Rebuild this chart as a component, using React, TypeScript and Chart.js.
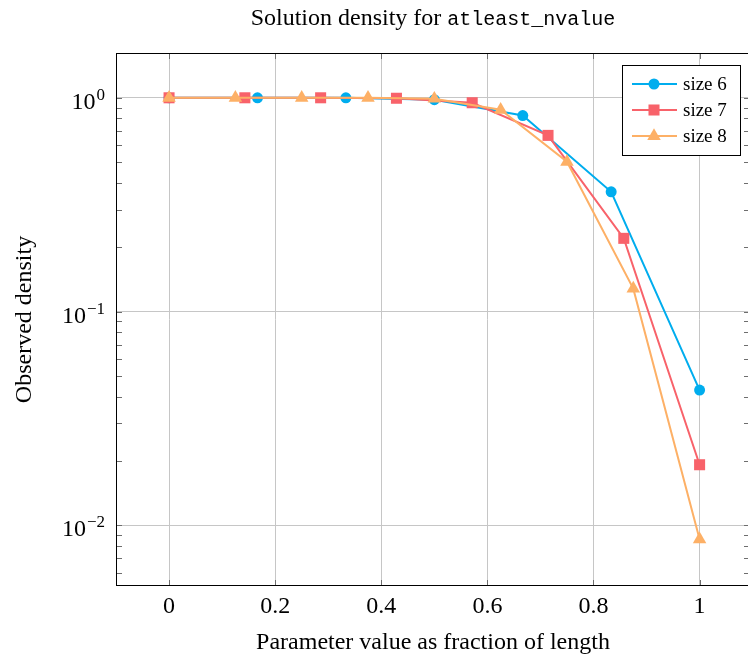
import React, { useEffect, useRef } from 'react';
import { Chart, registerables } from 'chart.js';

Chart.register(...registerables);

const chartTitle = 'Solution density for ';
const chartTitleCode = 'atleast_nvalue';
const xAxisTitle = 'Parameter value as fraction of length';
const yAxisTitle = 'Observed density';

const xTickValues = [0, 0.2, 0.4, 0.6, 0.8, 1];
const xMin = -0.1;
const xMax = 1.095;
const yMin = 0.0052;
const yMax = 1.62;

const seriesNames = ['size 6', 'size 7', 'size 8'];
const seriesColors = ['#00ADEE', '#F8626A', '#FDB066'];
const seriesMarkers = ['circle', 'rect', 'triangle'];
const seriesMarkerRadius = [5.5, 7.8, 7.8];

const size6X = [0, 0.1667, 0.3333, 0.5, 0.6667, 0.8333, 1];
const size6Y = [1, 1, 1, 0.98, 0.826, 0.363, 0.0429];

const size7X = [0, 0.1429, 0.2857, 0.4286, 0.5714, 0.7143, 0.8571, 1];
const size7Y = [1, 1, 1, 0.995, 0.948, 0.667, 0.22, 0.0192];

const size8X = [0, 0.125, 0.25, 0.375, 0.5, 0.625, 0.75, 0.875, 1];
const size8Y = [1, 1, 1, 1, 0.99, 0.879, 0.502, 0.128, 0.0086];

const seriesX = [size6X, size7X, size8X];
const seriesY = [size6Y, size7Y, size8Y];

const SERIF = "'Liberation Serif', 'Times New Roman', serif";
const MONO = "'Liberation Mono', 'DejaVu Sans Mono', monospace";
const GRID = '#c6c6c6';
const CANVAS_W = 750;
const CANVAS_H = 660;

function logInfo(v: number) {
  const exp = Math.floor(Math.log10(v) + 1e-9);
  const sig = v / Math.pow(10, exp);
  return { exp, sig };
}
function isIntSig(v: number) {
  const { sig } = logInfo(v);
  return Math.abs(sig - Math.round(sig)) < 1e-6;
}
function isDecade(v: number) {
  const { sig } = logInfo(v);
  return Math.abs(sig - 1) < 1e-6;
}

function drawMarker(ctx: CanvasRenderingContext2D, style: string, x: number, y: number, r: number, color: string) {
  ctx.save();
  ctx.fillStyle = color;
  ctx.beginPath();
  if (style === 'circle') {
    ctx.arc(x, y, r, 0, Math.PI * 2);
  } else if (style === 'rect') {
    const s = Math.SQRT1_2 * r;
    ctx.rect(x - s, y - s, 2 * s, 2 * s);
  } else {
    ctx.moveTo(x, y - r);
    ctx.lineTo(x + r * Math.sin(Math.PI / 3), y + r / 2);
    ctx.lineTo(x - r * Math.sin(Math.PI / 3), y + r / 2);
    ctx.closePath();
  }
  ctx.fill();
  ctx.restore();
}

const framePlugin = {
  id: 'framePlugin',
  afterDraw(chart: any) {
    const { ctx, chartArea: a, scales } = chart;
    const xs = scales.x;
    const ys = scales.y;
    ctx.save();

    // inward tick marks
    ctx.strokeStyle = '#6e6e6e';
    ctx.lineWidth = 1;
    ys.ticks.forEach((t: any) => {
      const py = Math.round(ys.getPixelForValue(t.value)) + 0.5;
      const len = 6;
      ctx.beginPath();
      ctx.moveTo(a.left, py);
      ctx.lineTo(a.left + len, py);
      ctx.moveTo(a.right, py);
      ctx.lineTo(a.right - len, py);
      ctx.stroke();
    });
    xs.ticks.forEach((t: any) => {
      const px = Math.round(xs.getPixelForValue(t.value)) + 0.5;
      const len = 6;
      ctx.beginPath();
      ctx.moveTo(px, a.bottom);
      ctx.lineTo(px, a.bottom - len);
      ctx.moveTo(px, a.top);
      ctx.lineTo(px, a.top + len);
      ctx.stroke();
    });

    // frame
    ctx.strokeStyle = '#000';
    ctx.lineWidth = 1;
    ctx.strokeRect(a.left + 0.5, a.top + 0.5, a.right - a.left - 1, a.bottom - a.top - 1);

    // y tick labels with superscripts
    ctx.fillStyle = '#000';
    ctx.textBaseline = 'alphabetic';
    ctx.textAlign = 'right';
    ys.ticks.forEach((t: any) => {
      if (!isDecade(t.value)) return;
      const py = ys.getPixelForValue(t.value);
      const { exp } = logInfo(t.value);
      const expText = exp === 0 ? '0' : (exp < 0 ? '\u2212' : '') + Math.abs(exp);
      const rightX = a.left - 11;
      ctx.font = `17px ${SERIF}`;
      const ew = ctx.measureText(expText).width;
      ctx.fillText(expText, rightX, py + 2);
      ctx.font = `24px ${SERIF}`;
      ctx.fillText('10', rightX - ew - 1, py + 11);
    });

    // title with mixed fonts
    ctx.textAlign = 'left';
    ctx.font = `24px ${SERIF}`;
    const w1 = ctx.measureText(chartTitle).width;
    ctx.font = `20px ${MONO}`;
    const w2 = ctx.measureText(chartTitleCode).width;
    const cx = 433;
    const startX = cx - (w1 + w2) / 2;
    ctx.font = `24px ${SERIF}`;
    ctx.fillText(chartTitle, startX, 25);
    ctx.font = `20px ${MONO}`;
    ctx.fillText(chartTitleCode, startX + w1, 25);

    // legend
    const bw = 118;
    const bh = 90;
    const bx = 622;
    const by = a.top + 12;
    ctx.fillStyle = '#fff';
    ctx.fillRect(bx, by, bw, bh);
    ctx.strokeStyle = '#000';
    ctx.strokeRect(bx + 0.5, by + 0.5, bw, bh);
    chart.data.datasets.forEach((ds: any, i: number) => {
      const ry = by + 19 + i * 26;
      ctx.strokeStyle = ds.borderColor;
      ctx.lineWidth = 2;
      ctx.beginPath();
      ctx.moveTo(bx + 10, ry);
      ctx.lineTo(bx + 55, ry);
      ctx.stroke();
      drawMarker(ctx, seriesMarkers[i], bx + 32, ry, seriesMarkerRadius[i], ds.borderColor);
      ctx.fillStyle = '#000';
      ctx.font = `19px ${SERIF}`;
      ctx.textBaseline = 'middle';
      ctx.fillText(ds.label, bx + 61, ry + 1);
    });

    ctx.restore();
  },
};

export default function App() {
  const ref = useRef<HTMLCanvasElement | null>(null);

  useEffect(() => {
    if (!ref.current) return;
    const datasets = seriesNames.map((name, i) => ({
      label: name,
      data: seriesX[i].map((x, j) => ({ x, y: seriesY[i][j] })),
      borderColor: seriesColors[i],
      backgroundColor: seriesColors[i],
      pointBackgroundColor: seriesColors[i],
      pointBorderWidth: 0,
      pointStyle: seriesMarkers[i],
      pointRadius: seriesMarkerRadius[i],
      borderWidth: 2,
      tension: 0,
      order: 2 - i,
    }));

    const chart = new Chart(ref.current, {
      type: 'line',
      data: { datasets },
      plugins: [framePlugin],
      options: {
        animation: false,
        responsive: false,
        events: [],
        layout: { autoPadding: false, padding: { top: 53, right: 0, left: 0, bottom: 0 } },
        plugins: {
          legend: { display: false },
          title: { display: false },
          tooltip: { enabled: false },
        },
        scales: {
          x: {
            type: 'linear',
            min: xMin,
            max: xMax,
            afterBuildTicks: (scale: any) => {
              scale.ticks = xTickValues.map((v) => ({ value: v }));
            },
            afterFit: (scale: any) => {
              scale.height = 74;
              scale.paddingLeft = 0;
              scale.paddingRight = 0;
            },
            grid: { color: GRID, drawTicks: false, lineWidth: 1 },
            border: { display: false },
            ticks: {
              font: { family: SERIF, size: 24 },
              color: '#000',
              padding: 6,
              maxRotation: 0,
              autoSkip: false,
              callback: (v: any) => String(Math.round(Number(v) * 10) / 10),
            },
            title: {
              display: true,
              text: xAxisTitle,
              font: { family: SERIF, size: 24 },
              color: '#000',
              padding: { top: 0, bottom: 3 },
            },
          },
          y: {
            type: 'logarithmic',
            min: yMin,
            max: yMax,
            afterBuildTicks: (scale: any) => {
              scale.ticks = scale.ticks.filter((t: any) => isIntSig(t.value));
            },
            afterFit: (scale: any) => {
              scale.width = 116;
              scale.paddingTop = 0;
              scale.paddingBottom = 0;
            },
            grid: {
              color: (c: any) => (c.tick && isDecade(c.tick.value) ? GRID : 'rgba(0,0,0,0)'),
              drawTicks: false,
              lineWidth: 1,
            },
            border: { display: false },
            ticks: { display: false, autoSkip: false },
            title: {
              display: true,
              text: yAxisTitle,
              font: { family: SERIF, size: 24 },
              color: '#000',
              padding: { top: 10, bottom: 0 },
            },
          },
        },
      } as any,
    });
    return () => chart.destroy();
  }, []);

  return (
    <div style={{ position: 'absolute', left: 0, top: 0, width: 748, height: 660, overflow: 'hidden', background: '#fff' }}>
      <canvas ref={ref} width={CANVAS_W} height={CANVAS_H} style={{ display: 'block', width: CANVAS_W, height: CANVAS_H }} />
    </div>
  );
}
